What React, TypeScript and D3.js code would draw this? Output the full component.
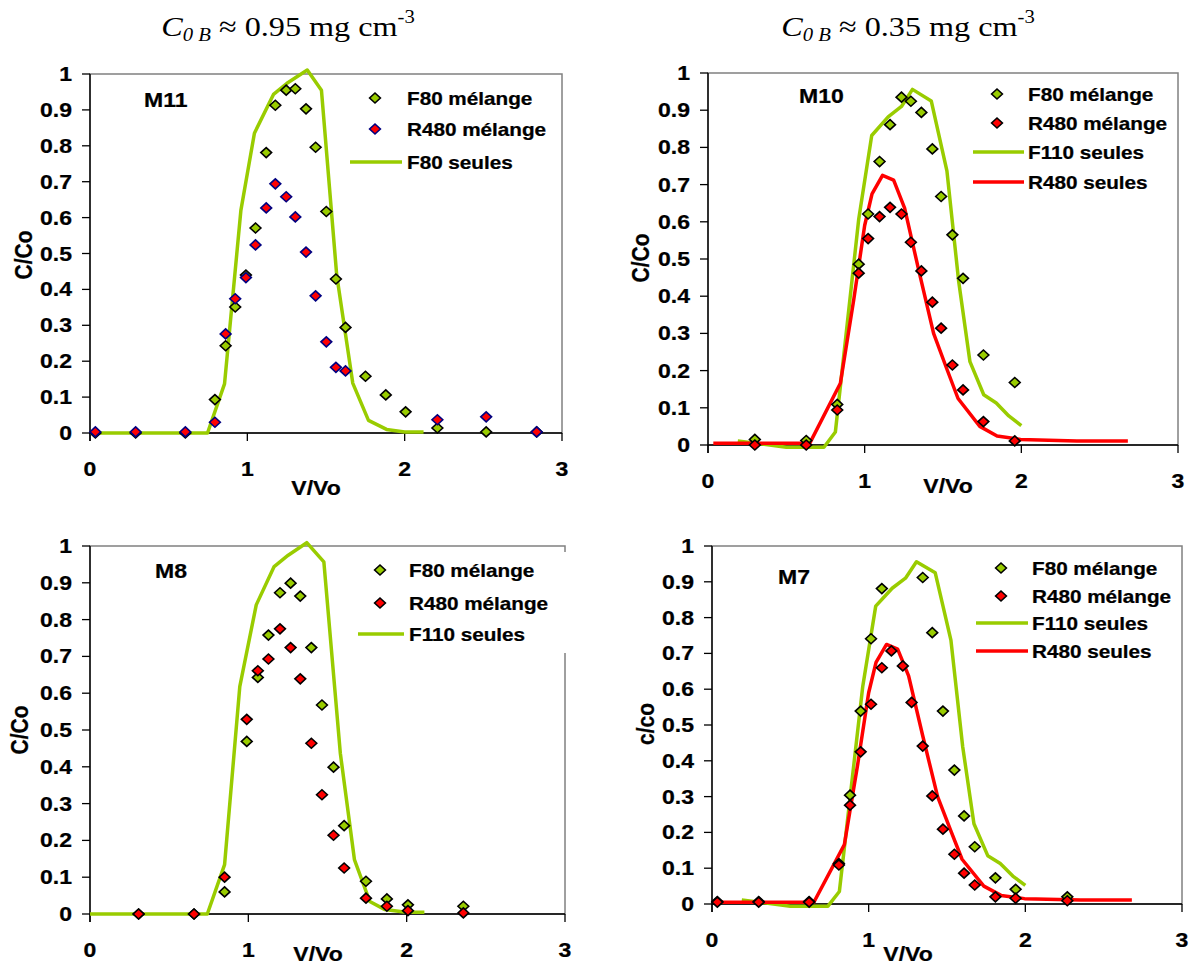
import React from "react";
import * as d3 from "d3";

// ---------- DATA ----------
const X_TICKS = [0, 1, 2, 3];
const Y_TICKS = [0, 0.1, 0.2, 0.3, 0.4, 0.5, 0.6, 0.7, 0.8, 0.9, 1];

// M11
const M11_V = [0.034, 0.29, 0.606, 0.794, 0.862, 0.923, 0.991, 1.052, 1.12, 1.178, 1.247, 1.305, 1.373, 1.434, 1.502, 1.563, 1.624, 1.751, 1.88, 2.006, 2.208, 2.518, 2.839];
const M11_F80 = [0, 0, 0, 0.093, 0.243, 0.351, 0.44, 0.571, 0.781, 0.913, 0.955, 0.959, 0.903, 0.796, 0.617, 0.429, 0.294, 0.158, 0.106, 0.059, 0.014, 0.003, 0.003];
const M11_R480 = [0.003, 0.003, 0.003, 0.03, 0.276, 0.374, 0.433, 0.524, 0.627, 0.694, 0.658, 0.602, 0.504, 0.382, 0.254, 0.183, 0.173, null, null, null, 0.037, 0.045, 0.003];
const M11_SEUL_V = [0, 0.747, 0.855, 0.959, 1.045, 1.166, 1.252, 1.381, 1.471, 1.568, 1.67, 1.77, 1.885, 2.0, 2.12];
const M11_SEUL_F80 = [0, 0, 0.137, 0.62, 0.835, 0.943, 0.974, 1.011, 0.955, 0.44, 0.139, 0.035, 0.01, 0.003, 0.003];

// M10
const M10_V = [0.299, 0.627, 0.825, 0.962, 1.022, 1.095, 1.162, 1.235, 1.295, 1.362, 1.432, 1.488, 1.56, 1.628, 1.758, 1.958];
const M10_F80 = [0.015, 0.012, 0.109, 0.486, 0.621, 0.762, 0.861, 0.935, 0.924, 0.894, 0.796, 0.668, 0.565, 0.448, 0.242, 0.168];
const M10_R480 = [0, 0, 0.094, 0.462, 0.555, 0.614, 0.639, 0.621, 0.545, 0.468, 0.384, 0.314, 0.215, 0.148, 0.063, 0.011];

// F110 seules / R480 seules (same curves in M10 and M7)
const F110_SEUL_V = [0.19, 0.5, 0.74, 0.813, 0.962, 1.045, 1.15, 1.235, 1.305, 1.425, 1.525, 1.6, 1.672, 1.76, 1.84, 1.92, 2.0];
const F110_SEUL = [0.011, -0.006, -0.006, 0.035, 0.607, 0.832, 0.882, 0.91, 0.956, 0.925, 0.737, 0.44, 0.224, 0.135, 0.113, 0.078, 0.052];
const R480_SEUL_V = [0.034, 0.65, 0.845, 0.93, 1.0, 1.047, 1.114, 1.185, 1.255, 1.345, 1.44, 1.524, 1.596, 1.735, 1.845, 1.995, 2.355, 2.68];
const R480_SEUL = [0.005, 0.005, 0.166, 0.39, 0.59, 0.675, 0.725, 0.712, 0.637, 0.47, 0.3, 0.205, 0.125, 0.05, 0.024, 0.015, 0.011, 0.011];

// M8
const M8_V = [0.307, 0.657, 0.85, 0.99, 1.06, 1.127, 1.2, 1.267, 1.328, 1.398, 1.465, 1.538, 1.605, 1.743, 1.875, 2.008, 2.358];
const M8_F80 = [0, 0, 0.06, 0.469, 0.643, 0.758, 0.873, 0.899, 0.864, 0.724, 0.568, 0.399, 0.24, 0.089, 0.041, 0.025, 0.021];
const M8_R480 = [0, 0, 0.1, 0.529, 0.661, 0.693, 0.775, 0.724, 0.639, 0.464, 0.324, 0.214, 0.125, 0.043, 0.021, 0.009, 0.003];
const M8_SEUL_V = [0, 0.741, 0.85, 0.946, 1.05, 1.163, 1.252, 1.369, 1.477, 1.581, 1.67, 1.767, 1.863, 1.996, 2.112];
const M8_SEUL_F110 = [0, 0, 0.134, 0.618, 0.84, 0.944, 0.975, 1.009, 0.957, 0.437, 0.148, 0.034, 0.012, 0.005, 0.005];

// M7
const M7_V = [0.034, 0.298, 0.62, 0.81, 0.881, 0.949, 1.015, 1.084, 1.145, 1.218, 1.274, 1.345, 1.406, 1.474, 1.547, 1.609, 1.677, 1.809, 1.938, 2.268];
const M7_F80 = [0.007, 0.007, 0.007, 0.113, 0.304, 0.539, 0.741, 0.881, null, null, null, 0.912, 0.758, 0.539, 0.374, 0.246, 0.16, 0.073, 0.041, 0.02];
const M7_R480 = [0.005, 0.005, 0.005, 0.109, 0.276, 0.425, 0.558, 0.66, 0.707, 0.665, 0.563, 0.441, 0.302, 0.209, 0.139, 0.086, 0.053, 0.02, 0.016, 0.009];

// ---------- STYLE ----------
const GREEN = "#99CC00";
const RED = "#FF0000";
const NAVY = "#000080";
const SX = 1.15;
const SANS = "'Liberation Sans', Arial, Helvetica, sans-serif";
const SERIF = "'Liberation Serif', 'Times New Roman', serif";

type Pt = [number, number];
const zip = (xs: number[], ys: (number | null)[]): Pt[] =>
  xs.map((v, i) => [v, ys[i]] as [number, number | null]).filter((p) => p[1] !== null) as Pt[];

type Scatter = { pts: Pt[]; fill: string; stroke: string };
type Line = { pts: Pt[]; color: string };
type LegendItem = { kind: "marker" | "line"; color: string; stroke?: string; label: string };

type PanelCfg = {
  left: number; right: number; top: number; bottom: number;
  name: string; nameX: number; nameY: number;
  yTitle: string; yTitleX: number; yTitleY: number;
  xTitleX: number; xTitleY: number;
  lines: Line[]; scatters: Scatter[];
  legend: LegendItem[]; legMarkX: number; legTextX: number; legRows: number[]; legLineX: [number, number];
  whiteBox?: [number, number, number, number];
};

const diamond = (cx: number, cy: number) => {
  const hw = 5.4, hh = 5.0;
  return `M${cx},${cy - hh}L${cx + hw},${cy}L${cx},${cy + hh}L${cx - hw},${cy}Z`;
};

function SText(props: { x: number; y: number; anchor?: string; size?: number; weight?: string; family?: string; children: React.ReactNode; rotate?: boolean }) {
  const { x, y, anchor = "start", size = 20, weight = "bold", family = SANS, children, rotate } = props;
  return (
    <text
      transform={`translate(${x},${y}) scale(${SX},1)${rotate ? " rotate(-90)" : ""}`}
      textAnchor={anchor as any}
      fontFamily={family}
      fontSize={size}
      fontWeight={weight}
      fill="#000"
      stroke="#000"
      strokeWidth={0.25}
    >
      {children}
    </text>
  );
}

function Panel({ cfg }: { cfg: PanelCfg }) {
  const x = d3.scaleLinear().domain([0, 3]).range([cfg.left, cfg.right]);
  const y = d3.scaleLinear().domain([0, 1]).range([cfg.bottom, cfg.top]);
  const line = d3.line<Pt>().x((d) => x(d[0])).y((d) => y(d[1]));
  return (
    <g>
      {/* plot border */}
      <rect x={cfg.left} y={cfg.top} width={cfg.right - cfg.left} height={cfg.bottom - cfg.top} fill="none" stroke="#808080" strokeWidth={1.5} />
      {cfg.whiteBox && (
        <rect x={cfg.whiteBox[0]} y={cfg.whiteBox[1]} width={cfg.whiteBox[2]} height={cfg.whiteBox[3]} fill="#fff" />
      )}
      {/* axes */}
      <line x1={cfg.left} x2={cfg.left} y1={cfg.top} y2={cfg.bottom + 8} stroke="#000" strokeWidth={1.4} />
      <line x1={cfg.left} x2={cfg.right} y1={cfg.bottom} y2={cfg.bottom} stroke="#000" strokeWidth={1.4} />
      {Y_TICKS.map((t) => (
        <g key={"y" + t}>
          <line x1={cfg.left - 8} x2={cfg.left} y1={y(t)} y2={y(t)} stroke="#000" strokeWidth={1.3} />
          <SText x={cfg.left - 18} y={y(t) + 7} anchor="end">{d3.format("~g")(t)}</SText>
        </g>
      ))}
      {X_TICKS.map((t) => (
        <g key={"x" + t}>
          <line x1={x(t)} x2={x(t)} y1={cfg.bottom} y2={cfg.bottom + 8} stroke="#000" strokeWidth={1.3} />
          <SText x={x(t)} y={cfg.bottom + 43} anchor="middle">{String(t)}</SText>
        </g>
      ))}
      {/* lines */}
      {cfg.lines.map((l, i) => (
        <path key={"l" + i} d={line(l.pts) || ""} fill="none" stroke={l.color} strokeWidth={3.5} strokeLinejoin="round" />
      ))}
      {/* markers */}
      {cfg.scatters.map((s, i) => (
        <g key={"s" + i}>
          {s.pts.map((p, j) => (
            <path key={j} d={diamond(x(p[0]), y(p[1]))} fill={s.fill} stroke={s.stroke} strokeWidth={1.6} />
          ))}
        </g>
      ))}
      {/* panel name */}
      <SText x={cfg.nameX} y={cfg.nameY}>{cfg.name}</SText>
      {/* legend */}
      {cfg.legend.map((it, i) => {
        const ry = cfg.legRows[i];
        return (
          <g key={"lg" + i}>
            {it.kind === "marker" ? (
              <path d={diamond(cfg.legMarkX, ry)} fill={it.color} stroke={it.stroke} strokeWidth={1.6} />
            ) : (
              <line x1={cfg.legLineX[0]} x2={cfg.legLineX[1]} y1={ry} y2={ry} stroke={it.color} strokeWidth={3.5} />
            )}
            <SText x={cfg.legTextX} y={ry + 6.5} size={18}>{it.label}</SText>
          </g>
        );
      })}
      {/* axis titles */}
      <SText x={cfg.yTitleX} y={cfg.yTitleY} anchor="middle" size={21} rotate>
        <tspan dy="0.35em">{cfg.yTitle}</tspan>
      </SText>
      <SText x={cfg.xTitleX} y={cfg.xTitleY} anchor="middle">V/Vo</SText>
    </g>
  );
}

const panels: PanelCfg[] = [
  {
    left: 90, right: 562, top: 74, bottom: 433,
    name: "M11", nameX: 144, nameY: 107,
    yTitle: "C/Co", yTitleX: 24, yTitleY: 255,
    xTitleX: 316, xTitleY: 495,
    lines: [{ pts: zip(M11_SEUL_V, M11_SEUL_F80), color: GREEN }],
    scatters: [
      { pts: zip(M11_V, M11_F80), fill: GREEN, stroke: "#000" },
      { pts: zip(M11_V, M11_R480), fill: RED, stroke: NAVY },
    ],
    legend: [
      { kind: "marker", color: GREEN, stroke: "#000", label: "F80 mélange" },
      { kind: "marker", color: RED, stroke: NAVY, label: "R480 mélange" },
      { kind: "line", color: GREEN, label: "F80 seules" },
    ],
    legMarkX: 375, legTextX: 407, legRows: [98, 129, 162], legLineX: [350, 402],
  },
  {
    left: 708, right: 1178, top: 73, bottom: 445,
    name: "M10", nameX: 799, nameY: 103,
    yTitle: "C/Co", yTitleX: 641, yTitleY: 258,
    xTitleX: 948, xTitleY: 493,
    lines: [
      { pts: zip(F110_SEUL_V, F110_SEUL), color: GREEN },
      { pts: zip(R480_SEUL_V, R480_SEUL), color: RED },
    ],
    scatters: [
      { pts: zip(M10_V, M10_F80), fill: GREEN, stroke: "#000" },
      { pts: zip(M10_V, M10_R480), fill: RED, stroke: "#000" },
    ],
    legend: [
      { kind: "marker", color: GREEN, stroke: "#000", label: "F80 mélange" },
      { kind: "marker", color: RED, stroke: "#000", label: "R480 mélange" },
      { kind: "line", color: GREEN, label: "F110 seules" },
      { kind: "line", color: RED, label: "R480 seules" },
    ],
    legMarkX: 997, legTextX: 1028, legRows: [94, 123, 152, 182], legLineX: [973, 1024],
  },
  {
    left: 90, right: 565, top: 546, bottom: 914,
    name: "M8", nameX: 155, nameY: 578,
    yTitle: "C/Co", yTitleX: 20, yTitleY: 730,
    xTitleX: 318, xTitleY: 961,
    lines: [{ pts: zip(M8_SEUL_V, M8_SEUL_F110), color: GREEN }],
    scatters: [
      { pts: zip(M8_V, M8_F80), fill: GREEN, stroke: "#000" },
      { pts: zip(M8_V, M8_R480), fill: RED, stroke: "#000" },
    ],
    legend: [
      { kind: "marker", color: GREEN, stroke: "#000", label: "F80 mélange" },
      { kind: "marker", color: RED, stroke: "#000", label: "R480 mélange" },
      { kind: "line", color: GREEN, label: "F110 seules" },
    ],
    legMarkX: 380, legTextX: 409, legRows: [570, 603, 634], legLineX: [358, 404],
    whiteBox: [352, 552, 216, 101],
  },
  {
    left: 712, right: 1182, top: 546, bottom: 904,
    name: "M7", nameX: 778, nameY: 584,
    yTitle: "c/co", yTitleX: 646, yTitleY: 724,
    xTitleX: 908, xTitleY: 961,
    lines: [
      { pts: zip(F110_SEUL_V, F110_SEUL), color: GREEN },
      { pts: zip(R480_SEUL_V, R480_SEUL), color: RED },
    ],
    scatters: [
      { pts: zip(M7_V, M7_F80), fill: GREEN, stroke: "#000" },
      { pts: zip(M7_V, M7_R480), fill: RED, stroke: "#000" },
    ],
    legend: [
      { kind: "marker", color: GREEN, stroke: "#000", label: "F80 mélange" },
      { kind: "marker", color: RED, stroke: "#000", label: "R480 mélange" },
      { kind: "line", color: GREEN, label: "F110 seules" },
      { kind: "line", color: RED, label: "R480 seules" },
    ],
    legMarkX: 1001, legTextX: 1032, legRows: [568, 596, 623, 651], legLineX: [976, 1028],
  },
];

const TITLES = [
  { cx: 288, value: "0.95" },
  { cx: 908, value: "0.35" },
];

export default function App() {
  return (
    <div style={{ position: "absolute", left: 0, top: 0 }}>
      <svg width={1194} height={967} style={{ display: "block", background: "#fff" }}>
        <rect width={1194} height={967} fill="#fff" />
        {TITLES.map((t) => (
          <text
            key={t.value}
            transform={`translate(${t.cx},36) scale(${SX},1)`}
            textAnchor="middle"
            fontFamily={SERIF}
            fontSize={28}
            fill="#000"
          >
            <tspan fontStyle="italic">C</tspan>
            <tspan fontStyle="italic" fontSize={18} dy={5}>{"0 B"}</tspan>
            <tspan dy={-5}>{" ≈ " + t.value + " mg cm"}</tspan>
            <tspan fontSize={18} dy={-13}>-3</tspan>
          </text>
        ))}
        {panels.map((p) => (
          <Panel key={p.name} cfg={p} />
        ))}
      </svg>
    </div>
  );
}
